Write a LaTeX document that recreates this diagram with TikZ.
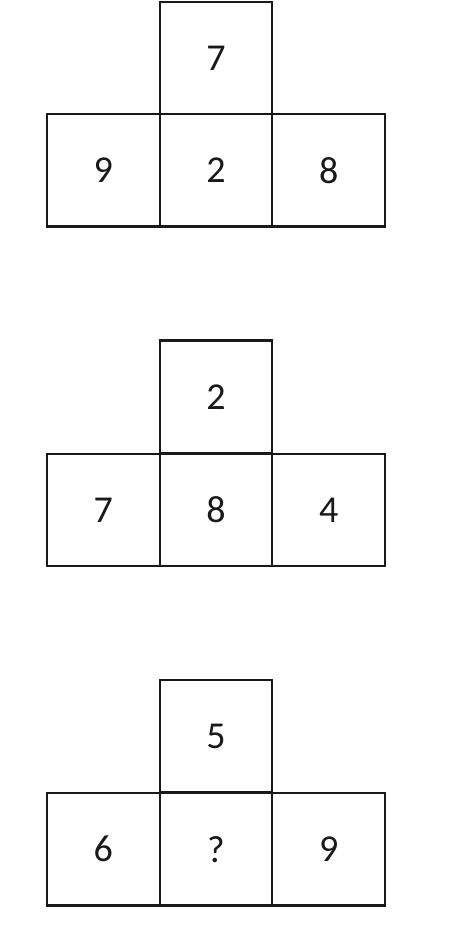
\documentclass[tikz,border=0pt]{standalone}
\usepackage{fontspec}
\setmainfont{Carlito}
\begin{document}
\begin{tikzpicture}[x=1pt,y=-1pt,
  cell/.style={draw=black!90, line width=2.2pt, minimum width=112.7pt, minimum height=112.5pt,
    inner sep=0pt, font=\fontsize{38}{38}\selectfont, text=black!90}]
\useasboundingbox[fill=white] (0,0) rectangle (458,927);
% figure 1
\node[cell] (a1) at (216,58) {7};
\node[cell] (a2) at (103.3,170.3) {9};
\node[cell] (a3) at (216,170.3) {2};
\node[cell] (a4) at (328.7,170.3) {8};
% figure 2
\node[cell] (b1) at (216,396.7) {2};
\node[cell] (b2) at (103.3,510) {7};
\node[cell] (b3) at (216,510) {8};
\node[cell] (b4) at (328.7,510) {4};
% figure 3
\node[cell] (c1) at (216,736.2) {5};
\node[cell] (c2) at (103.3,849.2) {6};
\node[cell] (c3) at (216,849.2) {?};
\node[cell] (c4) at (328.7,849.2) {9};
\end{tikzpicture}
\end{document}
